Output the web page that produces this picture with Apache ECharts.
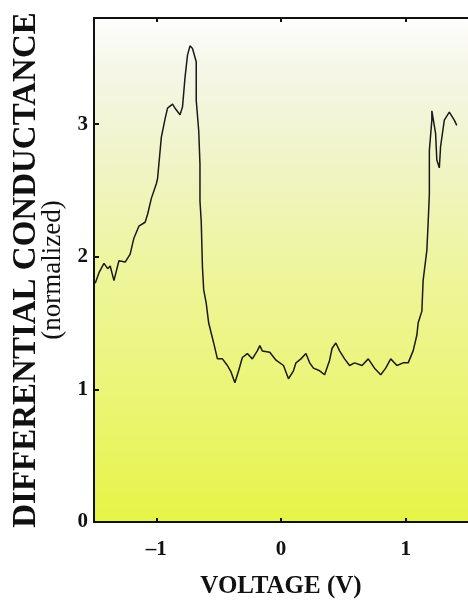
<!DOCTYPE html>
<html>
<head>
<meta charset="utf-8">
<script src="https://cdn.jsdelivr.net/npm/echarts@6/dist/echarts.min.js"></script>
<style>html,body{margin:0;padding:0;background:#fff}#c{width:468px;height:605px}</style>
</head>
<body>
<div id="c"></div>
<script>
var voltage = [-1.49,-1.46,-1.42,-1.39,-1.37,-1.34,-1.30,-1.25,-1.21,-1.18,-1.14,-1.09,-1.07,-1.04,-1.00,-0.99,-0.96,-0.93,-0.91,-0.87,-0.85,-0.81,-0.79,-0.77,-0.75,-0.73,-0.71,-0.68,-0.68,-0.66,-0.65,-0.65,-0.64,-0.63,-0.62,-0.60,-0.58,-0.54,-0.51,-0.47,-0.43,-0.40,-0.37,-0.34,-0.31,-0.27,-0.23,-0.19,-0.17,-0.15,-0.09,-0.04,0.02,0.06,0.10,0.12,0.16,0.20,0.23,0.26,0.31,0.35,0.39,0.41,0.44,0.47,0.51,0.55,0.59,0.65,0.70,0.75,0.80,0.84,0.88,0.93,0.98,1.02,1.06,1.09,1.10,1.13,1.14,1.17,1.18,1.19,1.19,1.21,1.21,1.24,1.25,1.27,1.28,1.31,1.35,1.39,1.41];
var conductance = [1.80,1.88,1.95,1.91,1.93,1.82,1.97,1.96,2.02,2.14,2.23,2.26,2.32,2.44,2.55,2.59,2.90,3.04,3.12,3.15,3.12,3.07,3.13,3.35,3.52,3.59,3.57,3.47,3.18,2.95,2.70,2.42,2.27,1.92,1.75,1.65,1.50,1.35,1.23,1.23,1.18,1.13,1.05,1.14,1.24,1.27,1.23,1.29,1.33,1.29,1.28,1.22,1.18,1.08,1.14,1.20,1.23,1.27,1.20,1.16,1.14,1.11,1.22,1.31,1.35,1.29,1.23,1.18,1.20,1.18,1.23,1.16,1.11,1.16,1.23,1.18,1.20,1.20,1.29,1.41,1.50,1.59,1.82,2.05,2.25,2.47,2.80,3.03,3.10,2.93,2.73,2.67,2.83,3.03,3.09,3.03,2.99];
var xTicks = [-1, 0, 1];
var yTicks = [0, 1, 2, 3];
var xTitle = 'VOLTAGE (V)';
var yTitle = 'DIFFERENTIAL CONDUCTANCE';
var ySubTitle = '(normalized)';

var pts = voltage.map(function (v, i) { return [v, conductance[i]]; });
var serif = '"Liberation Serif", "DejaVu Serif", serif';
var chart = echarts.init(document.getElementById('c'), null, {renderer: 'canvas'});
chart.setOption({
  animation: false,
  grid: {
    left: 94, right: -12, top: 18, bottom: 83,
    show: true, borderWidth: 0,
    backgroundColor: {
      type: 'linear', x: 0, y: 0, x2: 0, y2: 1,
      colorStops: [
        {offset: 0, color: '#fefefc'},
        {offset: 0.1, color: '#f5f6e8'},
        {offset: 0.3, color: '#f0f4c4'},
        {offset: 0.5, color: '#eef59c'},
        {offset: 0.75, color: '#ebf575'},
        {offset: 1, color: '#e6f446'}
      ]
    }
  },
  xAxis: [{
    type: 'value', min: -1.5, max: 1.5, position: 'bottom',
    splitLine: {show: false},
    axisLine: {show: true, onZero: false, lineStyle: {color: '#111', width: 2}},
    axisTick: {show: true, inside: true, length: 4, customValues: xTicks, lineStyle: {color: '#111', width: 2}},
    axisLabel: {customValues: xTicks, margin: 17, color: '#111', fontFamily: serif, fontWeight: 'bold', fontSize: 21,
      formatter: function (v) { return String(v).replace('-', '\u2013'); }},
    name: xTitle, nameLocation: 'middle', nameGap: 52,
    nameTextStyle: {color: '#111', fontFamily: serif, fontWeight: 'bold', fontSize: 25}
  }, {
    type: 'value', min: -1.5, max: 1.5, position: 'top',
    splitLine: {show: false},
    axisLine: {show: true, onZero: false, lineStyle: {color: '#111', width: 2}},
    axisTick: {show: true, inside: true, length: 4, customValues: xTicks, lineStyle: {color: '#111', width: 2}},
    axisLabel: {show: false}
  }],
  yAxis: {
    type: 'value', min: 0, max: 3.8,
    splitLine: {show: false},
    axisLine: {show: true, onZero: false, lineStyle: {color: '#111', width: 2}},
    axisTick: {show: true, inside: true, length: 5, customValues: yTicks, lineStyle: {color: '#111', width: 2}},
    axisLabel: {customValues: yTicks, margin: 6, color: '#111', fontFamily: serif, fontWeight: 'bold', fontSize: 21},
    name: '{a|' + yTitle + '}\n{b|' + ySubTitle + '}',
    nameLocation: 'middle', nameGap: 24,
    nameTextStyle: {
      rich: {
        a: {fontFamily: serif, fontWeight: 'bold', fontSize: 33, color: '#111', lineHeight: 30, align: 'center'},
        b: {fontFamily: serif, fontSize: 27, color: '#111', lineHeight: 23, align: 'center'}
      }
    }
  },
  series: [{
    type: 'line', xAxisIndex: 0, data: pts, showSymbol: false, symbol: 'none',
    lineStyle: {color: '#1a1a1a', width: 1.5}
  }]
});
</script>
</body>
</html>
